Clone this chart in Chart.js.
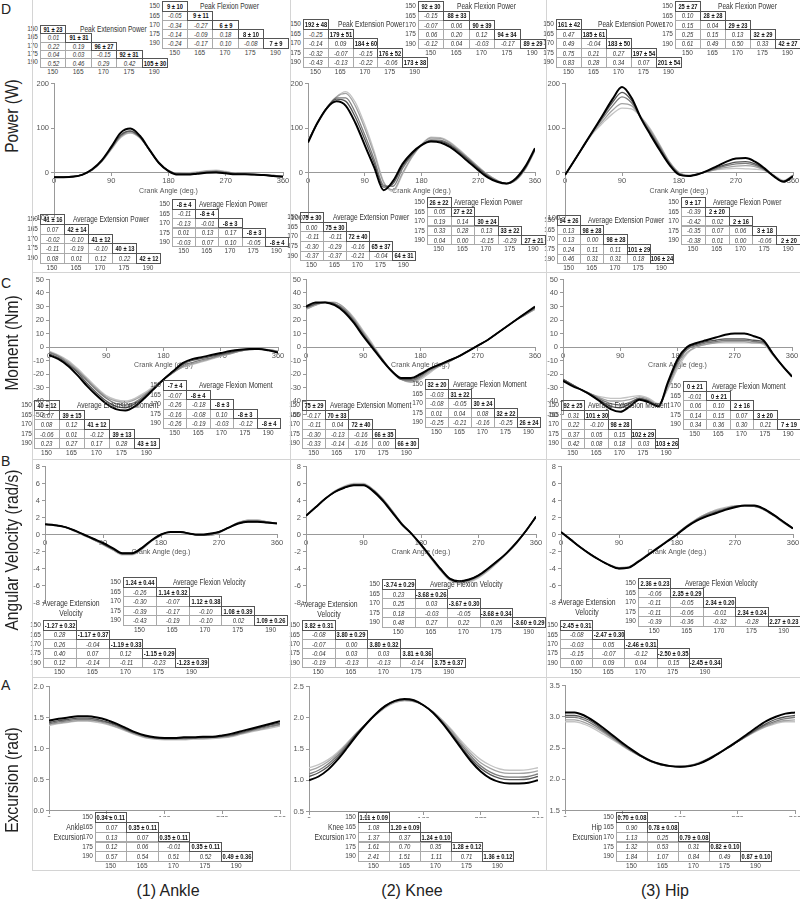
<!DOCTYPE html>
<html>
<head>
<meta charset="utf-8">
<script src="https://cdn.jsdelivr.net/npm/chart.js@4.4.0/dist/chart.umd.min.js"></script>
<style>
  body { margin: 0; background: #fff; font-family: "Liberation Sans", Arial, sans-serif; }
  #fig { position: relative; width: 800px; height: 900px; overflow: hidden; }
  #fig canvas { position: absolute; }
  .abs { position: absolute; white-space: nowrap; color: #333; }
  .cell { position: absolute; box-sizing: border-box; border: 1px solid #aaa; display: flex;
          justify-content: center; align-items: center; white-space: nowrap;
          font-size: 6.8px; font-style: italic; color: #333; }
  .cell span { display: inline-block; transform: scaleX(0.88); }
  .cell.diag { border-color: #555; font-weight: bold; font-style: normal; font-size: 7.2px; color: #111; z-index: 2; }
  .cell.diag span { transform: scaleX(0.8); }
  .lbl { position: absolute; font-size: 6.5px; color: #444; white-space: nowrap; }
  .ttl { position: absolute; font-size: 8.5px; color: #333; white-space: nowrap; transform-origin: 0 50%; }
  .hline { position: absolute; height: 1px; background: #d4d4d4; }
  .vline { position: absolute; width: 1px; background: #d4d4d4; }
</style>
</head>
<body>
<div id="fig"></div>
<script>
// crank lengths (mm) and crank angle sample points (deg)
const crankLengths = ['150', '165', '170', '175', '190'];
const crankAngles = [0, 15, 30, 45, 60, 75, 90, 105, 120, 135, 150, 165, 180,
                     195, 210, 225, 240, 255, 270, 285, 300, 315, 330, 345, 360];

// ---- D: power (W) ----
const ankPow190 = [-10,-10,-9,-4,8,28,58,90,99,83,52,22,4,-4,-4,-2,0,1,-1,-3,-3,-4,-5,-7,-9];
const ankPow175 = [-9,-9,-8,-4,7,27,56,85,94,80,51,22,4,-3,-3,-1,1,2,0,-2,-3,-4,-5,-7,-8];
const ankPow170 = [-9,-9,-8,-4,7,26,55,83,93,80,51,22,5,-2,-2,0,2,3,1,-2,-3,-4,-5,-6,-8];
const ankPow165 = [-9,-9,-8,-4,6,25,53,81,90,79,51,23,5,-2,-1,1,4,5,2,-1,-3,-4,-5,-6,-8];
const ankPow150 = [-9,-9,-8,-4,6,25,52,79,89,78,51,23,5,-1,0,2,5,6,3,-1,-3,-4,-5,-6,-8];

const kneePow190 = [68,112,145,160,150,112,62,12,-39,-18,20,45,62,70,68,58,42,24,6,-10,-20,-24,-12,15,55];
const kneePow175 = [70,112,146,165,160,125,75,22,-32,-24,15,42,62,72,71,62,46,28,10,-7,-19,-24,-14,12,53];
const kneePow170 = [70,111,146,168,168,135,85,30,-28,-30,10,40,62,74,73,64,48,30,11,-6,-18,-24,-15,11,52];
const kneePow165 = [72,111,145,170,178,150,100,42,-22,-38,0,36,63,78,77,67,50,32,13,-4,-17,-24,-16,10,51];
const kneePow150 = [74,110,143,170,182,158,108,48,-20,-42,-3,35,63,80,79,69,52,33,14,-4,-17,-24,-16,9,50];

const hipPow190 = [-5,28,62,96,130,165,192,168,122,85,50,18,-4,-7,-3,5,15,25,32,33,25,10,-8,-20,-8];
const hipPow175 = [-5,28,62,95,127,158,180,162,123,88,54,20,-2,-7,-3,4,12,19,24,25,20,8,-8,-19,-7];
const hipPow170 = [-5,28,62,94,123,150,170,157,123,91,57,22,-1,-7,-3,3,10,16,20,21,17,7,-7,-19,-6];
const hipPow165 = [-5,28,61,92,117,140,155,150,124,95,60,24,0,-6,-3,3,8,12,15,16,14,6,-7,-18,-6];
const hipPow150 = [-5,28,61,90,112,132,145,143,125,98,62,25,1,-5,-2,3,7,9,10,9,8,5,-5,-17,-5];

// ---- C: moment (Nm) ----
const ankMom190 = [-6,-9,-14,-21,-29,-36,-42,-46,-47,-44,-38,-31,-24,-18,-12,-9,-7.5,-6,-4.5,-3,-2,-1.5,-1.5,-2.5,-4];
const ankMom175 = [-5,-8,-13,-19,-27,-34,-40,-44,-45,-42,-37,-31,-24,-18,-13,-10,-8.5,-7,-5.5,-4,-2.5,-1.5,-1.5,-2.5,-4];
const ankMom170 = [-4,-7,-12,-18,-25,-32,-38,-42,-43,-41,-36,-30,-24,-19,-14,-11.5,-9.5,-8,-6,-4.5,-3,-2,-1.5,-2,-3.5];
const ankMom165 = [-3.5,-6.5,-11,-17,-24,-31,-37,-40,-41,-39,-35,-30,-24,-19,-15,-12.5,-10.5,-8.5,-6.5,-5,-3,-2,-1.5,-2,-3];
const ankMom150 = [-3,-6,-10,-16,-23,-30,-36,-39,-40,-38,-34,-29,-24,-19,-15,-13,-11,-9,-7,-5,-3,-2,-1.5,-2,-3];

const kneeMom190 = [30,33,33,31,26,18,8,-1,-10,-18,-23,-23,-20,-16,-13,-10,-7,-3,1,5,10,15,20,25,30];
const kneeMom175 = [29,32,33,32,27,19,9,0,-10,-18,-24,-24,-21,-16,-13,-10,-7,-3,1,5,10,15,20,25,29];
const kneeMom170 = [29,32,33,32,28,20,10,0,-9,-18,-24,-25,-22,-17,-14,-10,-7,-3,1,5,10,15,20,24,29];
const kneeMom165 = [28,31,33,33,29,21,11,1,-9,-18,-24,-26,-23,-18,-14,-11,-7,-3,1,5,10,15,20,24,28];
const kneeMom150 = [28,31,33,33,29,22,12,2,-9,-18,-24,-26,-24,-19,-14,-11,-7,-3,1,5,10,15,20,24,28];

const hipMom190 = [-25,-29,-32,-36,-41,-46,-48,-44,-39,-41,-44,-26,-9,0,3,5,7,9,10,10,8,5,-5,-14,-22];
const hipMom175 = [-24,-28,-32,-36,-40,-44,-45,-42,-38,-40,-44,-27,-11,-1,2,4,5,6,6,6,5,4,-5,-14,-22];
const hipMom170 = [-24,-28,-32,-35,-39,-42,-43,-41,-38,-40,-43,-28,-12,-2,1,3,4,5,5,5,4,3,-5,-14,-22];
const hipMom165 = [-24,-28,-32,-35,-38,-40,-40,-39,-37,-39,-43,-30,-14,-4,0,2,3,4,4,4,3,3,-6,-14,-21];
const hipMom150 = [-24,-28,-32,-35,-37,-38,-38,-37,-36,-38,-42,-31,-16,-5,0,2,3,3,3,3,3,2,-6,-14,-21];

// ---- B: angular velocity (rad/s) ----
const ankVel190 = [1.2,1.1,0.9,0.5,0.0,-0.5,-1.0,-1.6,-2.2,-2.2,-1.6,-0.7,0.0,0.3,0.3,0.1,0.0,0.1,0.3,0.8,1.3,1.5,1.5,1.4,1.3];
const ankVel175 = [1.2,1.1,0.9,0.5,0.0,-0.5,-1.1,-1.7,-2.2,-2.2,-1.6,-0.7,0.0,0.3,0.3,0.1,-0.1,0.0,0.3,0.8,1.3,1.5,1.5,1.4,1.3];
const ankVel170 = [1.2,1.1,0.9,0.5,0.0,-0.6,-1.1,-1.7,-2.3,-2.3,-1.7,-0.7,0.0,0.3,0.3,0.1,-0.1,0.0,0.3,0.8,1.4,1.6,1.6,1.4,1.3];
const ankVel165 = [1.2,1.1,0.9,0.5,-0.1,-0.6,-1.2,-1.8,-2.3,-2.3,-1.7,-0.8,-0.1,0.3,0.3,0.1,-0.1,-0.1,0.2,0.8,1.4,1.7,1.7,1.5,1.3];
const ankVel150 = [1.2,1.1,0.9,0.4,-0.1,-0.6,-1.2,-1.8,-2.4,-2.4,-1.8,-0.8,-0.1,0.3,0.3,0.1,-0.1,-0.1,0.2,0.8,1.4,1.7,1.7,1.5,1.3];

const kneeVel190 = [2.2,3.2,4.2,5.0,5.5,5.8,5.8,5.1,4.0,2.6,1.2,0.1,-1.2,-2.6,-4.0,-5.2,-5.5,-5.3,-4.8,-4.0,-3.1,-2.1,-0.9,0.5,2.1];
const kneeVel175 = [2.2,3.2,4.2,5.0,5.5,5.8,5.8,5.2,4.1,2.7,1.2,0.1,-1.2,-2.6,-4.0,-5.2,-5.5,-5.3,-4.8,-4.0,-3.1,-2.1,-0.9,0.5,2.1];
const kneeVel170 = [2.2,3.2,4.2,5.0,5.6,5.9,5.9,5.2,4.1,2.7,1.3,0.1,-1.2,-2.7,-4.1,-5.3,-5.6,-5.4,-4.9,-4.1,-3.2,-2.1,-0.9,0.5,2.1];
const kneeVel165 = [2.2,3.2,4.2,5.1,5.6,5.9,5.9,5.3,4.2,2.8,1.3,0.1,-1.3,-2.7,-4.1,-5.3,-5.7,-5.5,-5.0,-4.2,-3.2,-2.2,-1.0,0.5,2.1];
const kneeVel150 = [2.2,3.2,4.2,5.1,5.7,6.0,6.0,5.3,4.2,2.8,1.3,0.1,-1.3,-2.8,-4.2,-5.4,-5.7,-5.6,-5.1,-4.3,-3.3,-2.2,-1.0,0.5,2.1];

const hipVel190 = [0.3,-0.6,-1.5,-2.3,-3.0,-3.6,-4.0,-3.9,-3.2,-2.4,-1.6,-0.8,0.0,0.9,1.6,2.1,2.5,2.9,3.2,3.4,3.4,3.0,2.3,1.5,0.7];
const hipVel175 = [0.3,-0.6,-1.5,-2.3,-3.0,-3.6,-4.0,-3.9,-3.2,-2.4,-1.6,-0.8,0.0,0.9,1.7,2.2,2.6,3.0,3.3,3.4,3.4,3.0,2.3,1.5,0.7];
const hipVel170 = [0.3,-0.6,-1.5,-2.3,-3.0,-3.6,-4.0,-3.9,-3.2,-2.4,-1.6,-0.8,0.1,1.0,1.7,2.3,2.7,3.0,3.3,3.4,3.3,3.0,2.3,1.5,0.7];
const hipVel165 = [0.3,-0.6,-1.5,-2.3,-3.0,-3.6,-3.9,-3.8,-3.2,-2.4,-1.6,-0.8,0.1,1.0,1.8,2.4,2.8,3.1,3.3,3.4,3.3,2.9,2.2,1.4,0.7];
const hipVel150 = [0.3,-0.6,-1.5,-2.3,-3.0,-3.5,-3.9,-3.8,-3.1,-2.3,-1.5,-0.7,0.1,1.0,1.8,2.4,2.9,3.2,3.4,3.4,3.3,2.9,2.2,1.4,0.7];

// ---- A: excursion (rad) ----
const ankExc190 = [1.45,1.48,1.50,1.52,1.52,1.50,1.46,1.40,1.33,1.26,1.21,1.18,1.17,1.17,1.18,1.18,1.19,1.19,1.21,1.24,1.28,1.32,1.36,1.40,1.44];
const ankExc175 = [1.42,1.45,1.47,1.49,1.49,1.47,1.43,1.38,1.31,1.25,1.20,1.17,1.16,1.16,1.17,1.17,1.18,1.18,1.20,1.22,1.26,1.30,1.34,1.38,1.41];
const ankExc170 = [1.40,1.43,1.45,1.47,1.47,1.45,1.42,1.37,1.30,1.24,1.19,1.17,1.16,1.16,1.16,1.17,1.17,1.18,1.19,1.21,1.25,1.29,1.33,1.36,1.39];
const ankExc165 = [1.39,1.41,1.43,1.45,1.45,1.44,1.40,1.35,1.29,1.23,1.18,1.16,1.15,1.15,1.15,1.16,1.16,1.17,1.18,1.20,1.24,1.28,1.31,1.35,1.38];
const ankExc150 = [1.37,1.40,1.42,1.44,1.44,1.42,1.39,1.34,1.28,1.22,1.17,1.15,1.14,1.14,1.14,1.15,1.15,1.16,1.17,1.19,1.23,1.27,1.30,1.33,1.36];

const kneeExc190 = [1.00,1.06,1.17,1.33,1.52,1.72,1.90,2.06,2.19,2.27,2.30,2.28,2.20,2.08,1.91,1.71,1.50,1.30,1.14,1.03,0.97,0.95,0.95,0.96,1.00];
const kneeExc175 = [1.06,1.12,1.22,1.37,1.55,1.74,1.91,2.06,2.19,2.27,2.29,2.27,2.20,2.08,1.92,1.73,1.53,1.34,1.19,1.09,1.03,1.01,1.01,1.02,1.06];
const kneeExc170 = [1.10,1.16,1.26,1.40,1.57,1.75,1.91,2.06,2.18,2.26,2.29,2.27,2.20,2.09,1.93,1.75,1.56,1.38,1.23,1.13,1.07,1.05,1.05,1.06,1.10];
const kneeExc165 = [1.15,1.21,1.30,1.43,1.59,1.76,1.91,2.05,2.17,2.25,2.28,2.26,2.20,2.09,1.95,1.78,1.59,1.42,1.28,1.19,1.13,1.11,1.11,1.12,1.15];
const kneeExc150 = [1.20,1.25,1.33,1.45,1.60,1.76,1.91,2.04,2.16,2.24,2.27,2.26,2.20,2.10,1.96,1.80,1.62,1.46,1.33,1.24,1.18,1.16,1.16,1.17,1.20];

const hipExc190 = [3.07,3.07,3.02,2.93,2.82,2.70,2.58,2.47,2.37,2.29,2.24,2.21,2.20,2.21,2.25,2.32,2.41,2.51,2.61,2.72,2.83,2.93,3.00,3.05,3.07];
const hipExc175 = [3.02,3.02,2.98,2.90,2.79,2.68,2.56,2.46,2.36,2.29,2.24,2.21,2.20,2.21,2.25,2.32,2.41,2.50,2.60,2.70,2.80,2.89,2.96,3.00,3.02];
const hipExc170 = [2.99,2.99,2.95,2.87,2.77,2.66,2.55,2.45,2.36,2.28,2.23,2.21,2.20,2.22,2.26,2.33,2.41,2.50,2.60,2.70,2.79,2.87,2.93,2.97,2.99];
const hipExc165 = [2.95,2.95,2.91,2.84,2.75,2.65,2.54,2.44,2.36,2.28,2.23,2.21,2.21,2.22,2.26,2.33,2.42,2.51,2.60,2.69,2.78,2.85,2.91,2.94,2.95];
const hipExc150 = [2.92,2.92,2.88,2.81,2.72,2.63,2.53,2.44,2.36,2.28,2.23,2.21,2.21,2.22,2.27,2.34,2.42,2.51,2.60,2.69,2.77,2.84,2.89,2.92,2.92];

// ---- comparison tables: row i = crank length i, last entry is mean ± sd ----
const ankPeakExtPow = [['91 ± 23'], ['0.01','91 ± 31'], ['0.22','0.19','96 ± 27'], ['0.04','0.03','-0.15','92 ± 31'], ['0.52','0.46','0.29','0.42','105 ± 30']];
const ankPeakFlexPow = [['9 ± 10'], ['-0.05','9 ± 11'], ['-0.34','-0.27','6 ± 9'], ['-0.14','-0.09','0.18','8 ± 10'], ['-0.24','-0.17','0.10','-0.08','7 ± 9']];
const ankAvgExtPow = [['41 ± 16'], ['0.07','42 ± 14'], ['-0.02','-0.10','41 ± 12'], ['-0.11','-0.19','-0.10','40 ± 13'], ['0.08','0.01','0.12','0.22','42 ± 12']];
const ankAvgFlexPow = [['-8 ± 4'], ['-0.11','-8 ± 4'], ['-0.13','-0.01','-8 ± 3'], ['0.01','0.13','0.17','-8 ± 3'], ['-0.03','0.07','0.10','-0.05','-8 ± 4']];
const kneePeakExtPow = [['192 ± 48'], ['-0.25','179 ± 51'], ['-0.14','0.09','184 ± 60'], ['-0.32','-0.07','-0.15','176 ± 52'], ['-0.43','-0.13','-0.22','-0.06','173 ± 38']];
const kneePeakFlexPow = [['92 ± 30'], ['-0.15','88 ± 33'], ['-0.07','0.06','90 ± 39'], ['0.06','0.20','0.12','94 ± 34'], ['-0.12','0.04','-0.03','-0.17','89 ± 29']];
const kneeAvgExtPow = [['75 ± 30'], ['0.00','75 ± 30'], ['-0.11','-0.11','72 ± 40'], ['-0.30','-0.29','-0.16','65 ± 37'], ['-0.37','-0.37','-0.21','-0.04','64 ± 31']];
const kneeAvgFlexPow = [['26 ± 22'], ['0.05','27 ± 22'], ['0.19','0.14','30 ± 24'], ['0.33','0.28','0.13','33 ± 22'], ['0.04','0.00','-0.15','-0.29','27 ± 21']];
const hipPeakExtPow = [['161 ± 42'], ['0.47','185 ± 61'], ['0.49','-0.04','183 ± 50'], ['0.75','0.21','0.27','197 ± 54'], ['0.83','0.28','0.34','0.07','201 ± 54']];
const hipPeakFlexPow = [['25 ± 27'], ['0.10','28 ± 28'], ['0.15','0.04','29 ± 23'], ['0.25','0.15','0.13','32 ± 29'], ['0.61','0.49','0.50','0.33','42 ± 27']];
const hipAvgExtPow = [['94 ± 26'], ['0.13','98 ± 28'], ['0.13','0.00','98 ± 28'], ['0.24','0.11','0.11','101 ± 29'], ['0.46','0.31','0.31','0.18','106 ± 24']];
const hipAvgFlexPow = [['9 ± 17'], ['-0.39','2 ± 20'], ['-0.42','0.02','2 ± 16'], ['-0.35','0.07','0.06','3 ± 18'], ['-0.38','0.01','0.00','-0.06','2 ± 20']];

const ankAvgExtMom = [['40 ± 12'], ['-0.07','39 ± 15'], ['0.08','0.12','41 ± 12'], ['-0.06','0.01','-0.12','39 ± 13'], ['0.23','0.27','0.17','0.28','43 ± 13']];
const ankAvgFlexMom = [['-7 ± 4'], ['-0.07','-8 ± 4'], ['-0.26','-0.18','-8 ± 3'], ['-0.16','-0.08','0.10','-8 ± 3'], ['-0.26','-0.19','-0.03','-0.12','-8 ± 4']];
const kneeAvgExtMom = [['75 ± 29'], ['-0.17','70 ± 33'], ['-0.11','0.04','72 ± 40'], ['-0.30','-0.13','-0.16','66 ± 35'], ['-0.33','-0.14','-0.16','0.00','66 ± 30']];
const kneeAvgFlexMom = [['32 ± 20'], ['-0.03','31 ± 22'], ['-0.08','-0.05','30 ± 24'], ['0.01','0.04','0.08','32 ± 22'], ['-0.25','-0.21','-0.16','-0.25','26 ± 24']];
const hipAvgExtMom = [['92 ± 25'], ['0.31','101 ± 30'], ['0.22','-0.10','98 ± 28'], ['0.37','0.05','0.15','102 ± 29'], ['0.42','0.08','0.18','0.03','103 ± 26']];
const hipAvgFlexMom = [['0 ± 21'], ['-0.01','0 ± 21'], ['0.06','0.10','2 ± 16'], ['0.14','0.15','0.07','3 ± 20'], ['0.34','0.36','0.30','0.21','7 ± 19']];

const ankAvgFlexVel = [['1.24 ± 0.44'], ['-0.26','1.14 ± 0.32'], ['-0.30','-0.07','1.12 ± 0.38'], ['-0.39','-0.17','-0.10','1.08 ± 0.39'], ['-0.43','-0.19','-0.10','0.02','1.09 ± 0.26']];
const ankAvgExtVel = [['-1.27 ± 0.32'], ['0.28','-1.17 ± 0.37'], ['0.26','-0.04','-1.19 ± 0.33'], ['0.40','0.07','0.12','-1.15 ± 0.29'], ['0.12','-0.14','-0.11','-0.23','-1.23 ± 0.39']];
const kneeAvgFlexVel = [['-3.74 ± 0.29'], ['0.23','-3.68 ± 0.26'], ['0.25','0.03','-3.67 ± 0.30'], ['0.18','-0.03','-0.05','-3.68 ± 0.34'], ['0.48','0.27','0.22','0.26','-3.60 ± 0.29']];
const kneeAvgExtVel = [['3.82 ± 0.31'], ['-0.08','3.80 ± 0.29'], ['-0.07','0.00','3.80 ± 0.32'], ['-0.04','0.03','0.03','3.81 ± 0.36'], ['-0.19','-0.13','-0.13','-0.14','3.75 ± 0.37']];
const hipAvgFlexVel = [['2.36 ± 0.23'], ['-0.06','2.35 ± 0.29'], ['-0.11','-0.05','2.34 ± 0.20'], ['-0.11','-0.06','-0.01','2.34 ± 0.24'], ['-0.39','-0.36','-0.32','-0.28','2.27 ± 0.23']];
const hipAvgExtVel = [['-2.45 ± 0.31'], ['-0.08','-2.47 ± 0.30'], ['-0.03','0.05','-2.46 ± 0.31'], ['-0.15','-0.07','-0.12','-2.50 ± 0.35'], ['0.00','0.09','0.04','0.15','-2.45 ± 0.34']];

const ankExcTable = [['0.34 ± 0.11'], ['0.07','0.35 ± 0.11'], ['0.13','0.07','0.35 ± 0.11'], ['0.12','0.06','-0.01','0.35 ± 0.11'], ['0.57','0.54','0.51','0.52','0.49 ± 0.36']];
const kneeExcTable = [['1.11 ± 0.09'], ['1.08','1.20 ± 0.09'], ['1.37','0.37','1.24 ± 0.10'], ['1.61','0.70','0.35','1.28 ± 0.12'], ['2.41','1.51','1.11','0.71','1.36 ± 0.12']];
const hipExcTable = [['0.70 ± 0.08'], ['0.90','0.78 ± 0.08'], ['1.13','0.25','0.79 ± 0.08'], ['1.32','0.53','0.31','0.82 ± 0.10'], ['1.84','1.07','0.84','0.49','0.87 ± 0.10']];

// ---- layout ----
const fig = document.getElementById('fig');
const lineColors = ['#000000', '#555555', '#7c7c7c', '#a2a2a2', '#c4c4c4']; // 190 .. 150
Chart.defaults.font.family = '"Liberation Sans", Arial, sans-serif';

const charts = [
  { s: [ankPow190, ankPow175, ankPow170, ankPow165, ankPow150], box: [54, 83, 283, 202], y: [-100, 200, 100, 0] },
  { s: [kneePow190, kneePow175, kneePow170, kneePow165, kneePow150], box: [308, 83, 535, 202], y: [-100, 200, 100, 0] },
  { s: [hipPow190, hipPow175, hipPow170, hipPow165, hipPow150], box: [565, 83, 793, 202], y: [-100, 200, 100, 0] },
  { s: [ankMom190, ankMom175, ankMom170, ankMom165, ankMom150], box: [49, 279, 278, 399], y: [-50, 50, 10, 0] },
  { s: [kneeMom190, kneeMom175, kneeMom170, kneeMom165, kneeMom150], box: [306, 279, 535, 399], y: [-50, 50, 10, 0] },
  { s: [hipMom190, hipMom175, hipMom170, hipMom165, hipMom150], box: [563, 279, 792, 399], y: [-50, 50, 10, 0] },
  { s: [ankVel190, ankVel175, ankVel170, ankVel165, ankVel150], box: [45, 466, 277, 587], y: [-8, 8, 2, 0] },
  { s: [kneeVel190, kneeVel175, kneeVel170, kneeVel165, kneeVel150], box: [306, 466, 536, 587], y: [-8, 8, 2, 0] },
  { s: [hipVel190, hipVel175, hipVel170, hipVel165, hipVel150], box: [561, 466, 793, 587], y: [-8, 8, 2, 0] },
  { s: [ankExc190, ankExc175, ankExc170, ankExc165, ankExc150], box: [49, 686, 280, 795], y: [0, 2, 0.5, 1] },
  { s: [kneeExc190, kneeExc175, kneeExc170, kneeExc165, kneeExc150], box: [309, 686, 538, 796], y: [0.5, 2.5, 0.5, 1] },
  { s: [hipExc190, hipExc175, hipExc170, hipExc165, hipExc150], box: [565, 685, 795, 795], y: [1.5, 3.5, 0.5, 1] }
];

const AXIS_W = 28, PAD_T = 6, PAD_R = 10, X_H = 22;

charts.forEach(c => {
  const [l, t, r, b] = c.box;
  const [yMin, yMax, yStep, dec] = c.y;
  const cv = document.createElement('canvas');
  cv.width = r - l + AXIS_W + PAD_R;
  cv.height = b - t + PAD_T + X_H;
  cv.style.left = (l - AXIS_W) + 'px';
  cv.style.top = (t - PAD_T) + 'px';
  fig.appendChild(cv);

  new Chart(cv.getContext('2d'), {
    type: 'line',
    data: {
      datasets: c.s.map((vals, i) => ({
        data: vals.map((v, j) => ({ x: crankAngles[j], y: v })),
        borderColor: lineColors[i],
        borderWidth: i === 0 ? 2 : 1.3,
        pointRadius: 0,
        cubicInterpolationMode: 'monotone',
        fill: false
      }))
    },
    options: {
      responsive: false,
      animation: false,
      layout: { padding: { top: PAD_T, right: PAD_R, bottom: 0, left: 0 } },
      plugins: { legend: { display: false }, tooltip: { enabled: false } },
      scales: {
        x: {
          type: 'linear', min: 0, max: 360,
          position: { y: yMin > 0 || dec ? yMin : 0 },
          ticks: { stepSize: 90, font: { size: 7.5 }, color: '#555', padding: 1, maxRotation: 0 },
          grid: { drawOnChartArea: false, tickLength: 3, color: '#999' },
          border: { color: '#999' },
          title: { display: true, text: 'Crank Angle (deg.)', font: { size: 7 }, color: '#555', padding: 0 },
          afterFit: s => { s.height = X_H; }
        },
        y: {
          min: yMin, max: yMax,
          ticks: { stepSize: yStep, autoSkip: false, font: { size: 7.5 }, color: '#555', padding: 2,
                   callback: v => v.toFixed(dec) },
          grid: { drawOnChartArea: false, tickLength: 3, color: '#999' },
          border: { color: '#999' },
          afterFit: s => { s.width = AXIS_W; }
        }
      }
    }
  });
});

// tables: x,y = top-left of grid, cw = cell width, rh = row height
const tables = [
  { d: ankPeakExtPow, x: 40, y: 24.8, cw: 25.4, rh: 8.4, title: 'Peak Extension Power', tx: 80, ty: 29 },
  { d: ankPeakFlexPow, x: 162, y: 1.4, cw: 25.2, rh: 9.25, title: 'Peak Flexion Power', tx: 200, ty: 6 },
  { d: ankAvgExtPow, x: 40, y: 214.2, cw: 24, rh: 9.75, title: 'Average Extension Power', tx: 73, ty: 219 },
  { d: ankAvgFlexPow, x: 172, y: 199.3, cw: 23.2, rh: 9.4, title: 'Average Flexion Power', tx: 199, ty: 204 },
  { d: kneePeakExtPow, x: 303, y: 19.25, cw: 24.8, rh: 9.5, title: 'Peak Extension Power', tx: 338, ty: 24 },
  { d: kneePeakFlexPow, x: 418, y: 1.35, cw: 25.4, rh: 9.3, title: 'Peak Flexion Power', tx: 457, ty: 6 },
  { d: kneeAvgExtPow, x: 300, y: 212.2, cw: 23, rh: 9.6, title: 'Average Extension Power', tx: 333, ty: 217 },
  { d: kneeAvgFlexPow, x: 427, y: 197.3, cw: 23.6, rh: 9.4, title: 'Average Flexion Power', tx: 454, ty: 202 },
  { d: hipPeakExtPow, x: 556, y: 19.25, cw: 25, rh: 9.5, title: 'Peak Extension Power', tx: 598, ty: 24 },
  { d: hipPeakFlexPow, x: 675, y: 1.35, cw: 25, rh: 9.3, title: 'Peak Flexion Power', tx: 718, ty: 6 },
  { d: hipAvgExtPow, x: 557, y: 215.2, cw: 23.2, rh: 9.6, title: 'Average Extension Power', tx: 588, ty: 220 },
  { d: hipAvgFlexPow, x: 681, y: 197.3, cw: 23.8, rh: 9.4, title: 'Average Flexion Power', tx: 713, ty: 202 },

  { d: ankAvgExtMom, x: 34, y: 400.25, cw: 25, rh: 9.5, title: 'Average Extension Moment', tx: 77, ty: 405 },
  { d: ankAvgFlexMom, x: 163, y: 380.25, cw: 23.4, rh: 9.5, title: 'Average Flexion Moment', tx: 199, ty: 385 },
  { d: kneeAvgExtMom, x: 302, y: 400.25, cw: 23.2, rh: 9.5, title: 'Average Extension Moment', tx: 330, ty: 405 },
  { d: kneeAvgFlexMom, x: 425, y: 379.25, cw: 23, rh: 9.5, title: 'Average Flexion Moment', tx: 453, ty: 384 },
  { d: hipAvgExtMom, x: 561, y: 400.25, cw: 23.4, rh: 9.5, title: 'Average Extension Moment', tx: 588, ty: 405 },
  { d: hipAvgFlexMom, x: 683, y: 381.25, cw: 23.4, rh: 9.5, title: 'Average Flexion Moment', tx: 712, ty: 386 },

  { d: ankAvgFlexVel, x: 123, y: 577.25, cw: 32.8, rh: 9.5, title: 'Average Flexion Velocity', tx: 173, ty: 582 },
  { d: ankAvgExtVel, x: 43, y: 620.35, cw: 33, rh: 9.3, lines: ['Average Extension', 'Velocity'], align: 'center', tx: 71, ty: 603 },
  { d: kneeAvgFlexVel, x: 382, y: 579.25, cw: 32.6, rh: 9.5, title: 'Average Flexion Velocity', tx: 430, ty: 584 },
  { d: kneeAvgExtVel, x: 302, y: 620.35, cw: 32.6, rh: 9.3, lines: ['Average Extension', 'Velocity'], align: 'center', tx: 329, ty: 604 },
  { d: hipAvgFlexVel, x: 638, y: 578.25, cw: 32.4, rh: 9.5, title: 'Average Flexion Velocity', tx: 685, ty: 583 },
  { d: hipAvgExtVel, x: 560, y: 620.35, cw: 32.2, rh: 9.3, lines: ['Average Extension', 'Velocity'], align: 'center', tx: 587, ty: 602 },

  { d: ankExcTable, x: 95, y: 812.1, cw: 31.4, rh: 9.8, lines: ['Ankle', 'Excursion'], align: 'right', tx: 83, ty: 827 },
  { d: kneeExcTable, x: 358, y: 812.1, cw: 31, rh: 9.8, lines: ['Knee', 'Excursion'], align: 'right', tx: 344, ty: 827 },
  { d: hipExcTable, x: 616, y: 812.1, cw: 31, rh: 9.8, lines: ['Hip', 'Excursion'], align: 'right', tx: 602, ty: 827 }
];

function addDiv(cls, css, text) {
  const el = document.createElement('div');
  el.className = cls;
  Object.assign(el.style, css);
  el.textContent = text;
  fig.appendChild(el);
  return el;
}

tables.forEach(tb => {
  tb.d.forEach((row, r) => {
    const top = tb.y + r * tb.rh;
    addDiv('lbl', { left: (tb.x - 14) + 'px', width: '12px', textAlign: 'right',
                    top: top + 'px', lineHeight: tb.rh + 'px' }, crankLengths[r]);
    row.forEach((txt, c) => {
      const diag = c === row.length - 1;
      const el = addDiv('cell' + (diag ? ' diag' : ''), {
        left: (tb.x + c * tb.cw) + 'px', top: top + 'px',
        width: (tb.cw + 1) + 'px', height: (tb.rh + 1) + 'px'
      }, '');
      const sp = document.createElement('span');
      sp.textContent = txt;
      el.appendChild(sp);
    });
  });
  crankLengths.forEach((lab, c) => {
    addDiv('lbl', { left: (tb.x + c * tb.cw) + 'px', width: tb.cw + 'px', textAlign: 'center',
                    top: (tb.y + 5 * tb.rh + 1) + 'px' }, lab);
  });
  if (tb.title) {
    addDiv('ttl', { left: tb.tx + 'px', top: (tb.ty - 5) + 'px', transform: 'scaleX(0.78)' }, tb.title);
  } else {
    tb.lines.forEach((ln, i) => {
      const css = { top: (tb.ty - 5 + i * 10) + 'px' };
      if (tb.align === 'center') {
        css.left = tb.tx + 'px';
        css.transform = 'translateX(-50%) scaleX(0.8)';
        css.transformOrigin = '50% 50%';
      } else {
        css.right = (800 - tb.tx) + 'px';
        css.transform = 'scaleX(0.8)';
        css.transformOrigin = '100% 50%';
      }
      addDiv('ttl', css, ln);
    });
  }
});

// panel frame
[[32, 0, 870], [290, 0, 870], [546, 0, 870]].forEach(([x, y0, y1]) =>
  addDiv('vline', { left: x + 'px', top: y0 + 'px', height: (y1 - y0) + 'px' }, ''));
[272, 459, 677, 870].forEach(y =>
  addDiv('hline', { left: '32px', width: '768px', top: y + 'px' }, ''));

// row letters and axis titles
[['D', 1], ['C', 275], ['B', 453], ['A', 677]].forEach(([t, y]) =>
  addDiv('abs', { left: '1px', top: y + 'px', fontSize: '14px', color: '#222' }, t));
[['Power (W)', 116], ['Moment (Nm)', 343], ['Angular Velocity (rad/s)', 550], ['Excursion (rad)', 780]].forEach(([t, y]) =>
  addDiv('abs', { left: '12px', top: y + 'px', fontSize: '19px', color: '#222',
                  transform: 'translate(-50%, -50%) rotate(-90deg) scaleX(0.82)' }, t));

// joint labels
[['(1) Ankle', 168], ['(2) Knee', 412], ['(3) Hip', 665]].forEach(([t, x]) =>
  addDiv('abs', { left: x + 'px', top: '882px', fontSize: '16px', color: '#222',
                  transform: 'translateX(-50%)' }, t));
</script>
</body>
</html>
